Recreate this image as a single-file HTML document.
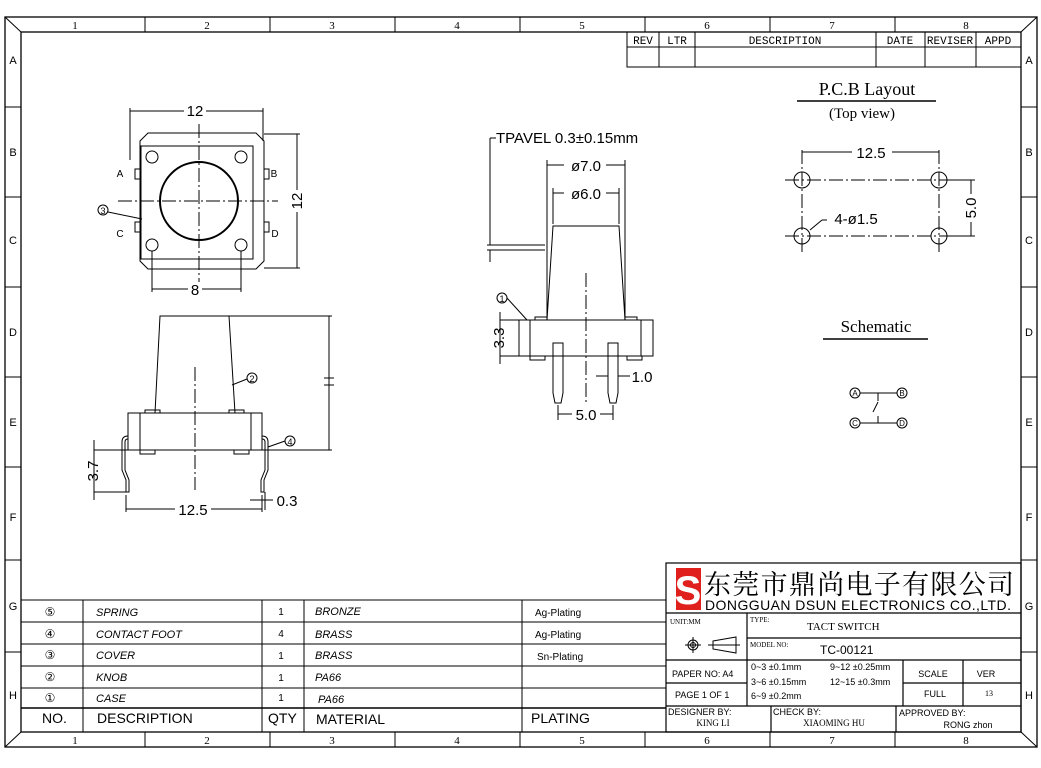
<!DOCTYPE html>
<html><head><meta charset="utf-8"><style>
html,body{margin:0;padding:0;background:#fff;}
svg{display:block;}
text{font-family:"Liberation Sans",sans-serif;fill:#000;}
.s{font-family:"Liberation Serif",serif;}
.m{font-family:"Liberation Mono",monospace;}
</style></head><body>
<svg width="1041" height="768" viewBox="0 0 1041 768" xmlns="http://www.w3.org/2000/svg" fill="none" stroke="#000" stroke-width="1">
<rect x="5" y="17" width="1032" height="730" stroke-width="1.3"/>
<rect x="21" y="32" width="1000" height="700" stroke-width="1.3"/>
<line x1="5" y1="17" x2="21" y2="32"/><line x1="1037" y1="17" x2="1021" y2="32"/>
<line x1="5" y1="747" x2="21" y2="732"/><line x1="1037" y1="747" x2="1021" y2="732"/>
<g>
<line x1="145" y1="17" x2="145" y2="32"/><line x1="270" y1="17" x2="270" y2="32"/><line x1="395" y1="17" x2="395" y2="32"/><line x1="520" y1="17" x2="520" y2="32"/><line x1="645" y1="17" x2="645" y2="32"/><line x1="770" y1="17" x2="770" y2="32"/><line x1="895" y1="17" x2="895" y2="32"/>
<line x1="145" y1="732" x2="145" y2="747"/><line x1="270" y1="732" x2="270" y2="747"/><line x1="395" y1="732" x2="395" y2="747"/><line x1="520" y1="732" x2="520" y2="747"/><line x1="645" y1="732" x2="645" y2="747"/><line x1="770" y1="732" x2="770" y2="747"/><line x1="895" y1="732" x2="895" y2="747"/>
<line x1="5" y1="107" x2="21" y2="107"/><line x1="5" y1="197" x2="21" y2="197"/><line x1="5" y1="287" x2="21" y2="287"/><line x1="5" y1="377" x2="21" y2="377"/><line x1="5" y1="467" x2="21" y2="467"/><line x1="5" y1="560" x2="21" y2="560"/><line x1="5" y1="652" x2="21" y2="652"/>
<line x1="1021" y1="107" x2="1037" y2="107"/><line x1="1021" y1="197" x2="1037" y2="197"/><line x1="1021" y1="287" x2="1037" y2="287"/><line x1="1021" y1="377" x2="1037" y2="377"/><line x1="1021" y1="467" x2="1037" y2="467"/><line x1="1021" y1="560" x2="1037" y2="560"/><line x1="1021" y1="652" x2="1037" y2="652"/>
</g>
<g stroke="none" font-size="11" text-anchor="middle">
<text class="s" x="75" y="29">1</text><text class="s" x="207" y="29">2</text><text class="s" x="332" y="29">3</text><text class="s" x="457" y="29">4</text><text class="s" x="582" y="29">5</text><text class="s" x="707" y="29">6</text><text class="s" x="832" y="29">7</text><text class="s" x="966" y="29">8</text>
<text class="s" x="75" y="744">1</text><text class="s" x="207" y="744">2</text><text class="s" x="332" y="744">3</text><text class="s" x="457" y="744">4</text><text class="s" x="582" y="744">5</text><text class="s" x="707" y="744">6</text><text class="s" x="832" y="744">7</text><text class="s" x="966" y="744">8</text>
<text x="13" y="64">A</text><text x="13" y="156">B</text><text x="13" y="244">C</text><text x="13" y="336">D</text><text x="13" y="426">E</text><text x="13" y="521">F</text><text x="13" y="610">G</text><text x="13" y="699">H</text>
<text x="1029" y="64">A</text><text x="1029" y="156">B</text><text x="1029" y="244">C</text><text x="1029" y="336">D</text><text x="1029" y="426">E</text><text x="1029" y="521">F</text><text x="1029" y="610">G</text><text x="1029" y="699">H</text>
</g>
<rect x="627" y="32" width="394" height="35"/>
<line x1="627" y1="47" x2="1021" y2="47"/>
<line x1="659" y1="32" x2="659" y2="67"/><line x1="695" y1="32" x2="695" y2="67"/><line x1="876" y1="32" x2="876" y2="67"/><line x1="925" y1="32" x2="925" y2="67"/><line x1="976" y1="32" x2="976" y2="67"/>
<g stroke="none" font-size="11" text-anchor="middle">
<text class="m" x="643" y="44">REV</text><text class="m" x="677" y="44">LTR</text><text class="m" x="785" y="44">DESCRIPTION</text><text class="m" x="900" y="44">DATE</text><text class="m" x="950" y="44">REVISER</text><text class="m" x="998" y="44">APPD</text>
</g>
<!-- top view -->
<g>
<path d="M140,141 L148,133 L256,133 L264,141 L264,261 L256,269 L148,269 L140,261 Z"/>
<rect x="141" y="146" width="112" height="113"/>
<circle cx="199" cy="201" r="39" stroke-width="2"/>
<circle cx="152" cy="157" r="6"/><circle cx="241" cy="157" r="6"/><circle cx="152" cy="245" r="6"/><circle cx="241" cy="245" r="6"/>
<path d="M140,169 h-5 v10 h5 M140,222 h-5 v10 h5 M264,169 h5 v10 h-5 M264,222 h5 v10 h-5"/>
<g stroke-dasharray="14,3,2,3"><line x1="199" y1="124" x2="199" y2="287"/><line x1="118" y1="201" x2="278" y2="201"/></g>
<line x1="130" y1="108" x2="130" y2="160"/><line x1="263" y1="108" x2="263" y2="141"/><line x1="130" y1="111" x2="263" y2="111"/>
<line x1="264" y1="134" x2="300" y2="134"/><line x1="264" y1="268" x2="300" y2="268"/><line x1="297" y1="134" x2="297" y2="268"/>
<line x1="152" y1="251" x2="152" y2="292"/><line x1="241" y1="251" x2="241" y2="292"/><line x1="152" y1="289" x2="241" y2="289"/>
<circle cx="103" cy="210" r="5"/><line x1="108" y1="212" x2="142" y2="219"/>
</g>
<g stroke="none" font-size="15" text-anchor="middle">
<rect x="184" y="103" width="22" height="14" fill="#fff"/><text x="195" y="116">12</text>
<rect x="188" y="282" width="14" height="14" fill="#fff"/><text x="195" y="295">8</text>
<rect x="290" y="190" width="14" height="22" fill="#fff"/><text x="0" y="0" transform="translate(302,201) rotate(-90)">12</text>
<text x="103" y="214" font-size="9">3</text>
<text x="120" y="177" font-size="10">A</text><text x="274" y="177" font-size="10">B</text><text x="120" y="237" font-size="10">C</text><text x="275" y="237" font-size="10">D</text>
</g>
<!-- side view -->
<g>
<path d="M160,316 L229,316 L235,413 L155,413 Z"/>
<path d="M145,413 h15 v-3 h-15 z M229,413 h15 v-3 h-15 z"/>
<rect x="128" y="413" width="134" height="37"/>
<line x1="140" y1="413" x2="140" y2="450"/><line x1="251" y1="413" x2="251" y2="450"/>
<path d="M140,450 h15 v4 h-15 z M234,450 h15 v4 h-15 z"/>
<line x1="195" y1="367" x2="195" y2="490" stroke-dasharray="14,3,2,3"/>
<path d="M128,436 Q122,436 122,442 L122,470 L126,480 L126,492 L129,492 L129,480 L125,470 L125,442 Q125,439 128,439"/>
<path d="M262,436 Q268,436 268,442 L268,470 L264,480 L264,492 L261,492 L261,480 L265,470 L265,442 Q265,439 262,439"/>
<line x1="229" y1="316" x2="332" y2="316"/><line x1="262" y1="450" x2="332" y2="450"/><line x1="329" y1="316" x2="329" y2="450"/>
<line x1="324" y1="378" x2="334" y2="378"/><line x1="324" y1="385" x2="334" y2="385"/>
<line x1="94" y1="450" x2="128" y2="450"/><line x1="94" y1="492" x2="128" y2="492"/><line x1="94" y1="440" x2="94" y2="500"/>
<line x1="126" y1="495" x2="126" y2="512"/><line x1="262" y1="495" x2="262" y2="512"/><line x1="126" y1="509" x2="262" y2="509"/>
<line x1="250" y1="500" x2="273" y2="500"/><line x1="265" y1="492" x2="265" y2="510"/>
<circle cx="252" cy="378" r="5"/><line x1="247" y1="379" x2="232" y2="385"/>
<circle cx="290" cy="441" r="5"/><line x1="285" y1="441" x2="268" y2="447"/>
</g>
<g stroke="none" font-size="15" text-anchor="middle">
<rect x="175" y="502" width="36" height="14" fill="#fff"/><text x="193" y="515">12.5</text>
<text x="0" y="0" transform="translate(98,471) rotate(-90)">3.7</text>
<text x="287" y="506">0.3</text>
<text x="252" y="382" font-size="9">2</text><text x="290" y="445" font-size="9">4</text>
</g>
<!-- front view -->
<g>
<path d="M553,226 L619,226 L625,320 L547,320 Z"/>
<path d="M535,320 h12 v-3 h-12 z M625,320 h12 v-3 h-12 z"/>
<rect x="519" y="320" width="134" height="36"/>
<line x1="530" y1="320" x2="530" y2="356"/><line x1="641" y1="320" x2="641" y2="356"/>
<path d="M530,356 h15 v4 h-15 z M627,356 h15 v4 h-15 z"/>
<path d="M553,343 h10 v50 l-2,10 h-6 l-2,-10 z"/>
<path d="M608,343 h10 v50 l-2,10 h-6 l-2,-10 z"/>
<line x1="586" y1="273" x2="586" y2="405" stroke-dasharray="14,3,2,3"/>
<line x1="547" y1="160" x2="547" y2="318"/><line x1="625" y1="160" x2="625" y2="318"/><line x1="547" y1="165" x2="625" y2="165"/>
<line x1="553" y1="188" x2="553" y2="224"/><line x1="619" y1="188" x2="619" y2="224"/><line x1="553" y1="193" x2="619" y2="193"/>
<line x1="490" y1="138" x2="490" y2="245"/><line x1="490" y1="138" x2="496" y2="138"/>
<line x1="487" y1="245" x2="545" y2="245"/><line x1="487" y1="250" x2="545" y2="250"/><line x1="490" y1="250" x2="490" y2="262"/>
<line x1="500" y1="320" x2="519" y2="320"/><line x1="500" y1="356" x2="519" y2="356"/><line x1="500" y1="312" x2="500" y2="364"/>
<line x1="558" y1="405" x2="558" y2="420"/><line x1="613" y1="405" x2="613" y2="420"/><line x1="558" y1="414" x2="613" y2="414"/>
<line x1="596" y1="376" x2="608" y2="376"/><line x1="618" y1="376" x2="630" y2="376"/>
<circle cx="502" cy="298" r="5"/><line x1="507" y1="298" x2="527" y2="320"/>
</g>
<g stroke="none" font-size="15" text-anchor="middle">
<text x="496" y="143" text-anchor="start">TPAVEL 0.3±0.15mm</text>
<rect x="564" y="158" width="42" height="14" fill="#fff"/><text x="586" y="171">ø7.0</text>
<rect x="564" y="186" width="42" height="14" fill="#fff"/><text x="586" y="199">ø6.0</text>
<rect x="572" y="407" width="28" height="14" fill="#fff"/><text x="586" y="420">5.0</text>
<text x="642" y="382">1.0</text>
<text x="0" y="0" transform="translate(504,338) rotate(-90)">3.3</text>
<text x="502" y="302" font-size="9">1</text>
</g>
<!-- PCB layout -->
<g stroke="none" text-anchor="middle">
<text class="s" x="867" y="95" font-size="18">P.C.B Layout</text>
<text class="s" x="862" y="118" font-size="15">(Top view)</text>
<text class="s" x="876" y="332" font-size="17">Schematic</text>
</g>
<line x1="797" y1="101" x2="936" y2="101" stroke-width="1.5"/>
<line x1="823" y1="339" x2="928" y2="339" stroke-width="1.5"/>
<g>
<circle cx="802" cy="180" r="8"/><circle cx="939" cy="180" r="8"/><circle cx="802" cy="236" r="8"/><circle cx="939" cy="236" r="8"/>
<g stroke-dasharray="14,3,2,3"><line x1="785" y1="180" x2="970" y2="180"/><line x1="785" y1="236" x2="970" y2="236"/><line x1="802" y1="150" x2="802" y2="252"/><line x1="939" y1="150" x2="939" y2="252"/></g>
<line x1="802" y1="152" x2="939" y2="152"/>
<line x1="948" y1="180" x2="975" y2="180"/><line x1="948" y1="236" x2="975" y2="236"/><line x1="971" y1="180" x2="971" y2="236"/>
<line x1="810" y1="230" x2="822" y2="220"/><line x1="822" y1="220" x2="827" y2="220"/>
</g>
<g stroke="none" font-size="15" text-anchor="middle">
<rect x="852" y="145" width="40" height="14" fill="#fff"/><text x="871" y="158">12.5</text>
<text x="856" y="224">4-ø1.5</text>
<rect x="964" y="194" width="14" height="28" fill="#fff"/><text x="0" y="0" transform="translate(976,208) rotate(-90)">5.0</text>
</g>
<!-- schematic -->
<g>
<circle cx="855" cy="393" r="5"/><circle cx="902" cy="393" r="5"/><circle cx="855" cy="423" r="5"/><circle cx="902" cy="423" r="5"/>
<line x1="860" y1="393" x2="897" y2="393"/><line x1="860" y1="423" x2="897" y2="423"/>
<line x1="878" y1="393" x2="878" y2="401"/><line x1="878" y1="416" x2="878" y2="423"/><line x1="873" y1="412" x2="878" y2="402"/>
</g>
<g stroke="none" font-size="8" text-anchor="middle"><text x="855" y="396">A</text><text x="902" y="396">B</text><text x="855" y="426">C</text><text x="902" y="426">D</text></g>
<!-- BOM -->
<g>
<line x1="21" y1="600" x2="666" y2="600"/><line x1="21" y1="622" x2="666" y2="622"/><line x1="21" y1="644" x2="666" y2="644"/><line x1="21" y1="666" x2="666" y2="666"/><line x1="21" y1="688" x2="666" y2="688"/><line x1="21" y1="708" x2="666" y2="708" stroke-width="1.5"/>
<line x1="83" y1="600" x2="83" y2="732"/><line x1="262" y1="600" x2="262" y2="732"/><line x1="304" y1="600" x2="304" y2="732"/><line x1="522" y1="600" x2="522" y2="732"/>
</g>
<g stroke="none" font-size="11">
<g text-anchor="middle" font-size="12"><text x="50" y="616">⑤</text><text x="50" y="638">④</text><text x="50" y="659">③</text><text x="50" y="681">②</text><text x="50" y="702">①</text></g>
<g font-style="italic"><text x="96" y="616">SPRING</text><text x="96" y="638">CONTACT FOOT</text><text x="96" y="659">COVER</text><text x="96" y="681">KNOB</text><text x="96" y="702">CASE</text>
<text x="315" y="615">BRONZE</text><text x="315" y="638">BRASS</text><text x="315" y="659">BRASS</text><text x="315" y="681">PA66</text><text x="318" y="703">PA66</text></g>
<g text-anchor="middle" font-size="10"><text x="281" y="615">1</text><text x="281" y="637">4</text><text x="281" y="659">1</text><text x="281" y="681">1</text><text x="281" y="701">1</text></g>
<g font-size="10"><text x="535" y="616">Ag-Plating</text><text x="535" y="638">Ag-Plating</text><text x="537" y="660">Sn-Plating</text></g>
<g font-size="14"><text x="42" y="723">NO.</text><text x="97" y="723">DESCRIPTION</text><text x="268" y="723">QTY</text><text x="316" y="724">MATERIAL</text><text x="531" y="723">PLATING</text></g>
</g>
<!-- title block -->
<g stroke-width="1.2">
<rect x="666" y="563" width="355" height="169"/>
<line x1="666" y1="613" x2="1021" y2="613"/>
<line x1="747" y1="638" x2="1021" y2="638"/>
<line x1="666" y1="660" x2="1021" y2="660"/>
<line x1="666" y1="683" x2="747" y2="683"/><line x1="903" y1="683" x2="1021" y2="683"/>
<line x1="666" y1="706" x2="1021" y2="706"/>
<line x1="747" y1="613" x2="747" y2="706"/><line x1="903" y1="660" x2="903" y2="706"/><line x1="963" y1="660" x2="963" y2="706"/>
<line x1="771" y1="706" x2="771" y2="732"/><line x1="896" y1="706" x2="896" y2="732"/>
</g>
<rect x="676" y="568" width="25" height="42" fill="#e0201c" stroke="none"/>
<text x="688" y="604" text-anchor="middle" font-size="40" font-weight="bold" stroke="none" style="fill:#fff">S</text>
<g stroke="none">
<text x="704" y="594" font-size="27" textLength="310" style="font-family:'Noto Serif CJK SC',serif">东莞市鼎尚电子有限公司</text>
<text x="705" y="610" font-size="14" textLength="306">DONGGUAN DSUN ELECTRONICS CO.,LTD.</text>
<text class="s" x="670" y="624" font-size="7">UNIT:MM</text>
<text class="s" x="750" y="622" font-size="7">TYPE:</text>
<text class="s" x="807" y="630" font-size="11">TACT SWITCH</text>
<text class="s" x="750" y="647" font-size="7">MODEL NO:</text>
<text x="820" y="654" font-size="12">TC-00121</text>
<text x="672" y="677" font-size="9">PAPER NO: A4</text>
<text x="675" y="698" font-size="9">PAGE 1 OF 1</text>
<text x="751" y="670" font-size="9">0~3 ±0.1mm</text><text x="830" y="670" font-size="9">9~12 ±0.25mm</text>
<text x="751" y="685" font-size="9">3~6 ±0.15mm</text><text x="830" y="685" font-size="9">12~15 ±0.3mm</text>
<text x="751" y="699" font-size="9">6~9 ±0.2mm</text>
<text x="933" y="677" font-size="9" text-anchor="middle">SCALE</text><text x="986" y="677" font-size="9" text-anchor="middle">VER</text>
<text x="935" y="697" font-size="9" text-anchor="middle">FULL</text><text class="s" x="989" y="696" font-size="8" text-anchor="middle">13</text>
<text x="668" y="715" font-size="9">DESIGNER BY:</text><text class="s" x="713" y="726" font-size="9" text-anchor="middle">KING LI</text>
<text x="773" y="715" font-size="9">CHECK BY:</text><text class="s" x="834" y="726" font-size="9" text-anchor="middle">XIAOMING HU</text>
<text x="899" y="716" font-size="9">APPROVED BY:</text><text x="968" y="728" font-size="9" text-anchor="middle">RONG zhon</text>
</g>
<g>
<circle cx="693" cy="645" r="5"/><circle cx="693" cy="645" r="2.5"/><line x1="685" y1="645" x2="701" y2="645"/><line x1="693" y1="637" x2="693" y2="653"/>
<path d="M713,641 L736,637 L736,653 L713,649 Z"/><line x1="708" y1="645" x2="740" y2="645"/>
</g>
</svg>
</body></html>
